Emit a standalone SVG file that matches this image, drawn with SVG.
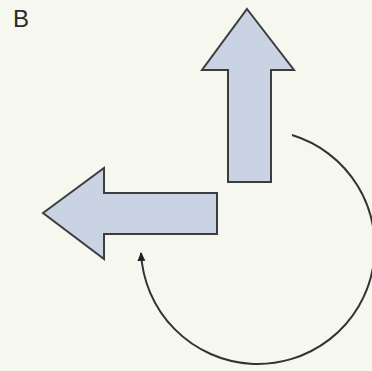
<svg xmlns="http://www.w3.org/2000/svg" width="372" height="371" viewBox="0 0 372 371">
<style>
.arrow{fill:#c9d3e3;stroke:#3d3d3d;stroke-width:2;stroke-linejoin:miter}
.conn{fill:none;stroke:#333;stroke-width:2}
.lbl{font-family:"Liberation Sans",Arial,sans-serif;font-size:24px;fill:#2a2a2a}
</style>
<defs>
<marker id="ah" markerWidth="10" markerHeight="10" refX="8" refY="5" orient="auto" markerUnits="userSpaceOnUse">
<path d="M0,1 L9,5 L0,9 Z" fill="#222"/>
</marker>
</defs>
<rect width="372" height="371" fill="#f6f7ee"/>
<text class="lbl" x="13" y="27">B</text>
<g id="up-arrow">
<polygon class="arrow" points="247,9 294,70 271,70 271,182 228,182 228,70 202,70"/>
</g>
<g id="left-arrow">
<polygon class="arrow" points="43,213 104,168 104,193 217,193 217,234 104,234 104,259"/>
</g>
<g id="connectors">
<path class="conn" d="M292,135 A117,117 0 1 1 141,253" marker-end="url(#ah)"/>
</g>
</svg>
